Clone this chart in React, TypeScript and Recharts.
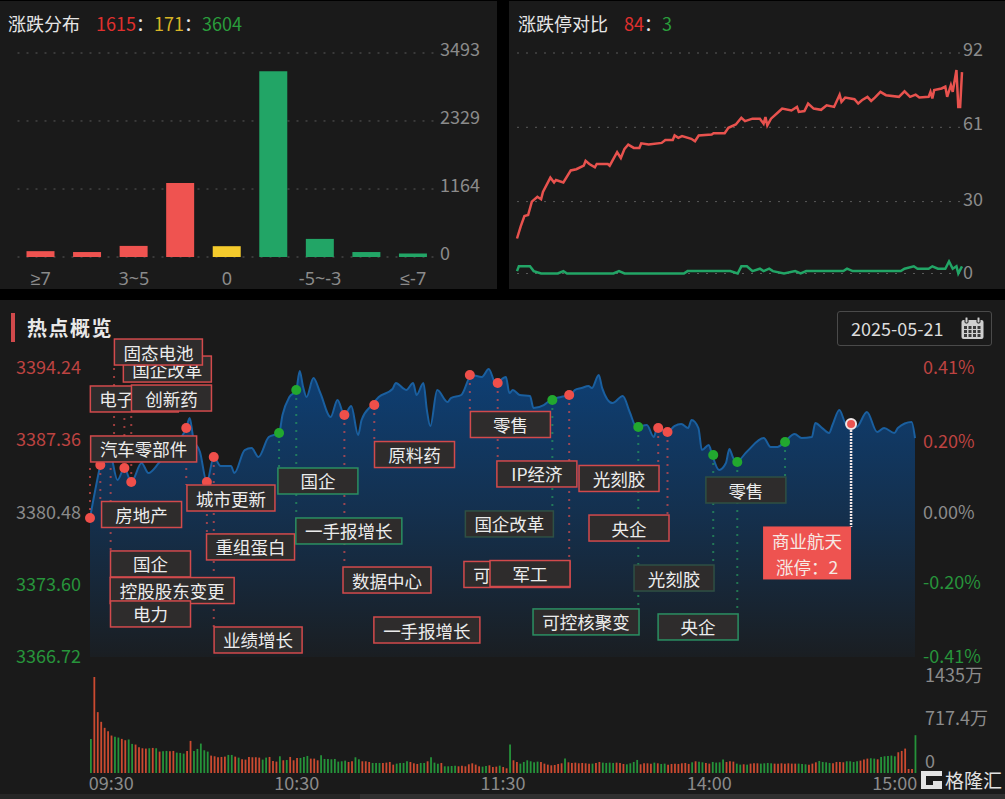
import {
  Area,
  Bar,
  BarChart,
  CartesianGrid,
  Cell,
  ComposedChart,
  Line,
  LineChart,
  ReferenceDot,
  ReferenceLine,
  XAxis,
  YAxis,
} from 'recharts';

const FONT = '"Noto Sans CJK SC", "Noto Sans", sans-serif';
const RED = '#ef5350';
const GREEN = '#22a566';
const AXIS_GREY = '#8b8b8b';

// 涨跌分布
const rangeLabels = ['≥7', '5~7', '3~5', '0~3', '0', '-3~0', '-5~-3', '-7~-5', '≤-7'];
const rangeCounts = [100, 85, 190, 1265, 185, 3180, 310, 85, 60];
const rangeColors = [RED, RED, RED, RED, '#f5cb2c', GREEN, GREEN, GREEN, GREEN];
const rangeTicks = [0, 1164, 2329, 3493];

// 涨跌停对比
const limitUpMinutes = [
  0, 2, 4, 6, 8, 11, 13, 14, 18, 20, 21, 25, 29, 32, 36, 37, 39, 42, 43, 49, 50, 52, 54, 56, 58, 60, 63, 66, 67, 71,
  78, 80, 84, 85, 87, 89, 94, 96, 98, 105, 106, 112, 114, 118, 121, 123, 127, 131, 133, 134, 135, 137, 141, 143, 148,
  151, 152, 155, 157, 160, 164, 167, 171, 174, 175, 177, 182, 184, 186, 189, 191, 193, 196, 199, 206, 209, 212, 215,
  217, 222, 223, 224, 225, 229, 231, 232, 234, 235, 237, 238, 239, 240,
];
const limitUpCounts = [
  14.6, 19.7, 24, 24.4, 30, 32, 31, 34, 40, 38, 39, 38, 43, 43.5, 45, 47, 45.7, 44.3, 45.7, 45.7, 45, 47.8, 50.6, 48.2,
  52, 53.8, 52.4, 52.4, 54.3, 53.8, 54.5, 55.7, 55.7, 57.6, 56.6, 57.3, 56.2, 55.2, 57.6, 58, 58.5, 58.5, 60.8, 62.2,
  65, 63.6, 64.6, 64.6, 62.5, 65.3, 61.8, 64.6, 67.4, 68.8, 68, 69.5, 67.4, 67.8, 70.9, 68.8, 68.3, 70.2, 69.5, 74.6,
  71.6, 73.4, 72.7, 70.9, 72.3, 73.7, 72, 73.4, 75.8, 74.4, 73.7, 76, 73.7, 74.6, 73.4, 73.7, 75.8, 73, 76.5, 77.2, 78,
  73.7, 78.6, 75.8, 84.9, 69.5, 69.5, 84,
];
const limitDownMinutes = [
  0, 1, 7, 9, 13, 22, 25, 27, 52, 55, 58, 90, 92, 115, 119, 121, 124, 127, 131, 133, 136, 138, 144, 150, 153, 156, 176,
  178, 181, 207, 209, 214, 216, 222, 224, 227, 231, 233, 235, 237, 238, 240,
];
const limitDownCounts = [
  1, 3, 3, 1, 0, 0, 1, 0, 0, 1, 0, 0, 1, 1, 0, 3, 3, 1, 2, 1, 2, 1, 0, 1, 0, 1, 1, 2, 1, 1, 2, 3, 2, 2, 3, 2, 2, 5, 2,
  3, 0, 3,
];
const limitTicks = [0, 30, 61, 92];
const limitTickLifts = [3, 4, 5, 5];

// 热点概览 分时
const priceMinutes = [
  0, 3, 4, 6, 8, 10, 12, 15, 17, 20, 23, 28, 29, 30, 32, 34, 36, 38, 41, 42, 45, 47, 49, 52, 55, 56, 58, 60, 61, 62,
  63, 65, 67, 70, 72, 74, 76, 78, 79, 82, 84, 88, 89, 91, 92, 94, 95, 97, 98, 99, 101, 104, 105, 108, 111, 114, 116,
  118, 121, 122, 123, 125, 128, 129, 132, 134, 137, 140, 141, 143, 145, 146, 148, 149, 152, 155, 157, 159, 162, 164,
  165, 168, 170, 172, 174, 175, 177, 178, 180, 181, 183, 185, 186, 187, 188, 191, 196, 198, 200, 202, 205, 207, 210,
  211, 213, 215, 216, 218, 220, 221, 223, 226, 229, 231, 234, 235, 239, 240,
];
const priceValues = [
  3379.96, 3385.0, 3386.43, 3385.95, 3383.57, 3384.72, 3383.38, 3385.19, 3384.24, 3385.19, 3386.43, 3388.52, 3389.48,
  3387.67, 3386.24, 3383.38, 3385.76, 3384.91, 3384.91, 3384.24, 3386.43, 3386.62, 3385.76, 3387.67, 3388.05, 3389.76,
  3391.48, 3392.14, 3393.95, 3392.43, 3391.48, 3393.28, 3391.86, 3389.57, 3391.19, 3389.76, 3390.62, 3387.86, 3389.29,
  3390.71, 3391.48, 3392.24, 3392.81, 3392.33, 3392.14, 3392.81, 3391.67, 3392.81, 3390.24, 3388.71, 3392.14, 3391.0,
  3391.38, 3391.67, 3393.57, 3393.38, 3394.14, 3392.81, 3393.38, 3391.86, 3392.14, 3391.67, 3391.57, 3390.43, 3390.71,
  3391.19, 3391.48, 3391.67, 3392.14, 3392.33, 3392.52, 3392.33, 3393.57, 3392.33, 3390.9, 3391.57, 3390.05, 3388.62,
  3388.81, 3387.67, 3388.52, 3388.14, 3388.71, 3388.91, 3388.52, 3389.29, 3388.52, 3386.43, 3386.91, 3385.95, 3384.53,
  3385.19, 3386.53, 3385.76, 3385.29, 3386.24, 3387.57, 3386.72, 3386.72, 3387.19, 3387.95, 3387.57, 3387.67, 3389.0,
  3388.52, 3388.05, 3388.81, 3390.24, 3388.91, 3388.91, 3388.62, 3390.05, 3388.14, 3388.52, 3388.05, 3388.52, 3389.09,
  3387.57,
];
const preClose = 3380.48;
const priceTicks = [3366.72, 3373.6, 3380.48, 3387.36, 3394.24];
const pctTicks = [-0.41, -0.2, 0, 0.2, 0.41];

// 异动点: 分钟, 价格, 引线终点价格, 方向
const eventMinutes = [
  0, 3, 6, 7, 10, 12, 28, 34, 36, 55, 60, 74, 82.7, 110.5, 118.6, 134.5, 139.4, 159.5, 165.3, 168, 181.3, 188.3, 202.2,
];
const eventPrices = [
  3379.96, 3385.0, 3386.24, 3386.43, 3384.72, 3383.38, 3388.52, 3383.38, 3385.76, 3388.05, 3392.14, 3389.76, 3390.71,
  3393.57, 3392.81, 3391.19, 3391.67, 3388.62, 3388.52, 3388.14, 3385.95, 3385.29, 3387.19,
];
const eventStemEnds = [
  3385.29, 3381.48, 3376.8, 3394.24, 3390.05, 3390.14, 3383.1, 3378.4, 3369.58, 3384.72, 3379.96, 3375.29, 3387.29,
  3390.05, 3385.38, 3380.62, 3375.96, 3371.29, 3384.9, 3380.24, 3375.48, 3370.76, 3383.86,
];
const eventUp = [
  true, true, true, true, true, true, true, true, true, false, false, true, true, true, true, false, true, false, true,
  true, false, false, false,
];

// 标签: 文字, 中心分钟, 中心价格, 边框
const tagTexts = [
  '国企改革', '固态电池', '电子\u3000\u3000', '创新药', '汽车零部件', '房地产', '城市更新', '重组蛋白', '国企', '控股股东变更',
  '电力', '业绩增长', '国企', '一手报增长', '原料药', '零售', 'IP经济', '光刻胶', '国企改革', '央企', '数据中心', '可控核聚变',
  '军工', '一手报增长', '可控核聚变', '光刻胶', '央企', '零售',
];
const tagMinutes = [
  22.5, 19.9, 12.9, 23.7, 15.6, 15, 41, 46.7, 17.6, 23.9, 17.6, 48.9, 66.3, 75.3, 94.4, 122.3, 130, 153.9, 122, 156.8,
  86.4, 124.2, 128, 98, 144.3, 169.9, 176.9, 190.8,
];
const tagPrices = [
  3394.14, 3395.76, 3391.29, 3391.38, 3386.53, 3380.29, 3381.86, 3377.2, 3375.58, 3373.05, 3370.82, 3368.34, 3383.48,
  3378.72, 3386.0, 3388.86, 3384.15, 3383.72, 3379.39, 3379.0, 3374.05, 3374.58, 3374.67, 3369.29, 3370.06, 3374.24,
  3369.58, 3382.62,
];
const tagTones = [
  'r', 'r', 'r', 'r', 'r', 'r', 'r', 'r', 'r', 'r', 'r', 'r', 'g', 'g', 'r', 'r', 'r', 'r', 'd', 'r', 'r', 'r', 'r', 'r',
  'g', 'd', 'g', 'd',
];

const highlightMinute = 221.4;
const highlightPrice = 3388.91;
const highlightStemEnd = 3379.1;
const highlightTagMinute = 208.6;
const highlightTagPrice = 3376.58;
const highlightLines = ['商业航天', '涨停：2'];

// 成交量 每分钟, 单位万
const volumeValues = [
  510, 1435, 910, 765, 675, 625, 560, 540, 530, 510,
  490, 500, 435, 425, 385, 370, 365, 370, 375, 370,
  320, 325, 330, 325, 330, 305, 300, 290, 330, 480,
  330, 360, 440, 340, 320, 260, 250, 235, 240, 245,
  270, 270, 245, 230, 205, 200, 240, 235, 235, 230,
  200, 230, 240, 180, 170, 250, 190, 195, 240, 190,
  225, 225, 240, 255, 215, 215, 190, 265, 210, 210,
  205, 210, 170, 175, 185, 165, 175, 235, 205, 175,
  175, 165, 150, 150, 150, 150, 155, 165, 125, 140,
  150, 150, 175, 165, 145, 135, 150, 150, 175, 235,
  155, 140, 150, 100, 100, 105, 110, 100, 110, 100,
  130, 145, 125, 100, 95, 105, 115, 90, 95, 110,
  90, 70, 425, 190, 165, 140, 165, 190, 175, 160,
  170, 165, 140, 125, 115, 120, 135, 145, 215, 160,
  150, 155, 145, 150, 145, 140, 140, 150, 165, 155,
  150, 155, 150, 155, 150, 135, 130, 145, 165, 195,
  130, 145, 145, 140, 155, 145, 135, 140, 125, 135,
  140, 135, 145, 150, 135, 160, 175, 170, 160, 150,
  140, 165, 155, 160, 200, 165, 175, 170, 140, 125,
  130, 125, 140, 145, 145, 140, 145, 150, 145, 140,
  140, 145, 140, 145, 140, 140, 140, 135, 130, 125,
  140, 160, 180, 165, 160, 150, 145, 165, 165, 160,
  175, 175, 165, 175, 185, 200, 215, 220, 215, 205,
  240, 250, 255, 260, 250, 310, 330, 365, 60, 60,
  565,
];
const volumeSides = (
  'grrrrrrggr' + 'rggrrrrgrg' + 'rggrrgggrr' + 'gggggrrrrr' + 'ggrgrrrrrr' + 'ggrrrgrgrr' + 'rgggrrrggg' +
  'gggggrrggr' + 'rrgggrrrrg' + 'gggrrrggrg' + 'ggrggggrrr' + 'rrrrggrrrg' + 'rrgrrggggg' + 'grrrrrrrgr' +
  'rrrrrrgrrg' + 'gggrrrgggg' + 'rrrrgrggrr' + 'rrrrrgrggr' + 'rggggrrrgg' + 'rgrrrggggr' + 'rrrrrrgggr' +
  'rrggggrrrr' + 'ggggrrrggr' + 'gggggrrrrr' + 'g'
).split('');
const volumeTicks = [0, 717.4, 1435];
const timeMinutes = [0, 60, 120, 180, 240];
const timeLabels = ['09:30', '10:30', '11:30', '14:00', '15:00'];

const rangeData = rangeLabels.map((label, i) => ({ label, count: rangeCounts[i] }));
const limitUpData = limitUpMinutes.map((minute, i) => ({ minute, count: limitUpCounts[i] }));
const limitDownData = limitDownMinutes.map((minute, i) => ({ minute, count: limitDownCounts[i] }));
const priceData = priceMinutes.map((minute, i) => ({
  minute,
  price: priceValues[i],
  pct: (priceValues[i] / preClose - 1) * 100,
}));
const volumeData = volumeValues.map((volume, i) => ({ minute: i, volume }));

function tickColor(value: number, mid: number) {
  if (value > mid) return '#bd4341';
  if (value < mid) return '#27943b';
  return AXIS_GREY;
}

function GreyTick({ y, payload, left, lift = 3, text }: any) {
  return (
    <text x={left} y={y - lift} fill={AXIS_GREY} fontSize={18} fontFamily={FONT} dominantBaseline="central">
      {text ?? payload.value}
    </text>
  );
}

function tagWidth(text: string) {
  const ascii = text.replace(/[^\x00-\x7f]/g, '').length;
  return Math.max(80, (text.length - ascii + ascii / 2) * 18 + 16);
}

function Tag({ cx, cy, text, tone }: any) {
  const width = tagWidth(text);
  const border = tone === 'r' ? '#d24a4c' : tone === 'g' ? '#2b8f62' : '#2f5044';
  return (
    <g>
      <rect x={cx - width / 2} y={cy - 13} width={width} height={26} fill="#2e2c2c" stroke={border} strokeWidth={1.5} />
      <text
        x={cx}
        y={cy}
        fill="#ececec"
        fontSize={17.5}
        fontFamily={FONT}
        textAnchor="middle"
        dominantBaseline="central"
      >
        {text}
      </text>
    </g>
  );
}

function HighlightTag({ cx, cy }: any) {
  return (
    <g>
      <rect x={cx - 44} y={cy - 27} width={88} height={53} fill="#ee5350" />
      {highlightLines.map((line, i) => (
        <text
          key={line}
          x={cx}
          y={cy - 13 + i * 26}
          fill="#f6e9e4"
          fontSize={17.5}
          fontFamily={FONT}
          textAnchor="middle"
          dominantBaseline="central"
        >
          {line}
        </text>
      ))}
    </g>
  );
}

function PanelTitle({ title, parts, left }: { title: string; parts: [string, string][]; left: number }) {
  return (
    <div
      style={{
        position: 'absolute',
        left,
        top: 10,
        height: 27,
        lineHeight: '27px',
        fontSize: 18,
        fontFamily: FONT,
        color: '#e6e6e6',
        whiteSpace: 'pre',
      }}
    >
      <span style={{ marginRight: 16 }}>{title}</span>
      {parts.map(([text, color], i) => (
        <span key={i} style={{ color }}>
          {text}
        </span>
      ))}
    </div>
  );
}

function RangeChart() {
  return (
    <BarChart width={497} height={290} data={rangeData} margin={{ top: 53, right: 0, bottom: 0, left: 17.5 }}>
      <CartesianGrid vertical={false} stroke="#5a5a5a" strokeDasharray="2 7" />
      <XAxis
        dataKey="label"
        interval={1}
        height={33}
        axisLine={false}
        tickLine={false}
        tick={({ x, payload }: any) => (
          <text
            x={x}
            y={278}
            fill={AXIS_GREY}
            fontSize={18}
            fontFamily='"Noto Sans", sans-serif'
            textAnchor="middle"
            dominantBaseline="central"
          >
            {payload.value}
          </text>
        )}
      />
      <YAxis
        orientation="right"
        width={60.5}
        domain={[0, 3493]}
        ticks={rangeTicks}
        interval={0}
        axisLine={false}
        tickLine={false}
        tick={(props: any) => <GreyTick {...props} left={440} lift={5} />}
      />
      <Bar dataKey="count" barSize={28} isAnimationActive={false}>
        {rangeData.map((row, i) => (
          <Cell key={row.label} fill={rangeColors[i]} />
        ))}
      </Bar>
    </BarChart>
  );
}

function LimitChart() {
  return (
    <LineChart width={496} height={290} margin={{ top: 53, right: 0, bottom: 16.5, left: 8 }}>
      <CartesianGrid vertical={false} stroke="#5a5a5a" strokeDasharray="2 7" />
      <XAxis dataKey="minute" type="number" domain={[0, 240]} hide />
      <YAxis
        orientation="right"
        width={43}
        domain={[0, 92]}
        ticks={limitTicks}
        interval={0}
        axisLine={false}
        tickLine={false}
        tick={(props: any) => (
          <GreyTick {...props} left={454} lift={limitTickLifts[limitTicks.indexOf(props.payload.value)]} />
        )}
      />
      <Line
        data={limitUpData}
        dataKey="count"
        type="linear"
        stroke="#e8524e"
        strokeWidth={2.5}
        dot={false}
        isAnimationActive={false}
      />
      <Line
        data={limitDownData}
        dataKey="count"
        type="linear"
        stroke={GREEN}
        strokeWidth={2.5}
        dot={false}
        isAnimationActive={false}
      />
    </LineChart>
  );
}

function PriceChart() {
  return (
    <ComposedChart width={1005} height={370} data={priceData} margin={{ top: 68, right: 0, bottom: 13, left: 0 }}>
      <defs>
        <linearGradient id="priceFill" x1="0" y1="0" x2="0" y2="1">
          <stop offset="0%" stopColor="#0e3f74" />
          <stop offset="50%" stopColor="#14304e" />
          <stop offset="100%" stopColor="#1a1e22" />
        </linearGradient>
      </defs>
      <XAxis dataKey="minute" type="number" domain={[0, 240]} hide />
      <YAxis
        width={90}
        domain={[3366.72, 3394.24]}
        ticks={priceTicks}
        interval={0}
        axisLine={false}
        tickLine={false}
        tick={({ y, payload }: any) => (
          <text x={16} y={y - 2} fill={tickColor(payload.value, preClose)} fontSize={18} fontFamily={FONT} dominantBaseline="central">
            {payload.value.toFixed(2)}
          </text>
        )}
      />
      <YAxis
        yAxisId="pct"
        orientation="right"
        width={90}
        domain={[-0.41, 0.41]}
        ticks={pctTicks}
        interval={0}
        axisLine={false}
        tickLine={false}
        tick={({ y, payload }: any) => (
          <text x={923} y={y - 2} fill={tickColor(payload.value, 0)} fontSize={18} fontFamily={FONT} dominantBaseline="central">
            {payload.value.toFixed(2)}%
          </text>
        )}
      />
      <Area
        dataKey="price"
        type="monotone"
        stroke="#1a5f9f"
        strokeWidth={2}
        fill="url(#priceFill)"
        fillOpacity={1}
        dot={false}
        isAnimationActive={false}
      />
      {/* keeps the percent axis attached to a series, the line itself is the same curve as the area */}
      <Line yAxisId="pct" dataKey="pct" stroke="none" dot={false} legendType="none" isAnimationActive={false} />
      {eventMinutes.map((minute, i) => (
        <ReferenceLine
          key={`stem-${i}`}
          ifOverflow="visible"
          segment={[
            { x: minute, y: eventPrices[i] },
            { x: minute, y: eventStemEnds[i] },
          ]}
          stroke={eventUp[i] ? '#e25050' : '#2aa060'}
          strokeOpacity={0.65}
          strokeWidth={2}
          strokeDasharray="2 6"
        />
      ))}
      {eventMinutes.map((minute, i) => (
        <ReferenceDot
          key={`dot-${i}`}
          x={minute}
          y={eventPrices[i]}
          r={5}
          ifOverflow="visible"
          fill={eventUp[i] ? '#ef4f4a' : '#22a82f'}
          stroke="none"
        />
      ))}
      {tagTexts.map((text, i) => (
        <ReferenceDot
          key={`tag-${i}`}
          x={tagMinutes[i]}
          y={tagPrices[i]}
          ifOverflow="visible"
          shape={(props: any) => <Tag {...props} text={text} tone={tagTones[i]} />}
        />
      ))}
      <ReferenceLine
        ifOverflow="visible"
        segment={[
          { x: highlightMinute, y: highlightPrice },
          { x: highlightMinute, y: highlightStemEnd },
        ]}
        stroke="#f1e6e6"
        strokeWidth={2.5}
        strokeDasharray="2 1"
      />
      <ReferenceDot
        x={highlightMinute}
        y={highlightPrice}
        r={5}
        ifOverflow="visible"
        fill="#ea5350"
        stroke="#efe6e6"
        strokeWidth={2}
      />
      <ReferenceDot
        x={highlightTagMinute}
        y={highlightTagPrice}
        ifOverflow="visible"
        shape={(props: any) => <HighlightTag {...props} />}
      />
    </ComposedChart>
  );
}

function VolumeChart() {
  return (
    <BarChart width={1005} height={139} data={volumeData} margin={{ top: 17, right: 0, bottom: 0, left: 89 }}>
      <XAxis
        dataKey="minute"
        ticks={timeMinutes}
        interval={0}
        height={26}
        axisLine={false}
        tickLine={false}
        tick={({ x, payload }: any) => {
          const i = timeMinutes.indexOf(payload.value);
          const anchor = i === 0 ? 'start' : i === timeMinutes.length - 1 ? 'end' : 'middle';
          return (
            <text
              x={i === 0 ? x - 2 : i === timeMinutes.length - 1 ? x + 2 : x}
              y={122}
              fill={AXIS_GREY}
              fontSize={18}
              fontFamily={FONT}
              textAnchor={anchor}
              dominantBaseline="central"
            >
              {timeLabels[i]}
            </text>
          );
        }}
      />
      <YAxis
        orientation="right"
        width={88}
        domain={[0, 1435]}
        ticks={volumeTicks}
        interval={0}
        axisLine={false}
        tickLine={false}
        tick={(props: any) => {
          const v = props.payload.value;
          return <GreyTick {...props} left={925} lift={v === 0 ? 13 : v === 1435 ? 3 : 8} text={v === 0 ? '0' : `${v}万`} />;
        }}
      />
      <Bar dataKey="volume" barSize={1.8} isAnimationActive={false}>
        {volumeData.map((row, i) => (
          <Cell key={row.minute} fill={volumeSides[i] === 'r' ? '#cb4a30' : '#25933a'} />
        ))}
      </Bar>
    </BarChart>
  );
}

function Calendar() {
  const cols = [3, 7.5, 12, 16.5];
  const rows = [9, 13, 17];
  return (
    <svg width={23} height={23} style={{ position: 'absolute', left: 123, top: 5 }}>
      <rect x={0.5} y={3} width={22} height={19} rx={2} fill="#cfcfcf" />
      <rect x={4} y={0} width={3} height={6} rx={1} fill="#cfcfcf" stroke="#1a1a1a" />
      <rect x={16} y={0} width={3} height={6} rx={1} fill="#cfcfcf" stroke="#1a1a1a" />
      {rows.map((y) => cols.map((x) => <rect key={`${x}-${y}`} x={x} y={y} width={3} height={3} fill="#3a3a3a" />))}
    </svg>
  );
}

export default function App() {
  return (
    <div style={{ position: 'absolute', left: 0, top: 0, width: 1005, height: 799, background: '#000', overflow: 'hidden', fontFamily: FONT }}>
      <div style={{ position: 'absolute', left: 0, top: 1, width: 497, height: 288, background: '#1a1a1a' }} />
      <div style={{ position: 'absolute', left: 509, top: 1, width: 496, height: 288, background: '#1a1a1a' }} />
      <div style={{ position: 'absolute', left: 0, top: 300, width: 1005, height: 494, background: '#1a1a1a' }} />
      <div style={{ position: 'absolute', left: 0, top: 794, width: 360, height: 5, background: '#262626' }} />
      <div style={{ position: 'absolute', left: 360, top: 794, width: 645, height: 5, background: '#303030' }} />

      <div style={{ position: 'absolute', left: 0, top: 0 }}>
        <RangeChart />
      </div>
      <div style={{ position: 'absolute', left: 509, top: 0 }}>
        <LimitChart />
      </div>
      <div style={{ position: 'absolute', left: 0, top: 300 }}>
        <PriceChart />
      </div>
      <div style={{ position: 'absolute', left: 0, top: 660 }}>
        <VolumeChart />
      </div>

      <PanelTitle
        title="涨跌分布"
        left={8}
        parts={[
          ['1615', '#e0302e'],
          ['：', '#e6e6e6'],
          ['171', '#d8b526'],
          ['：', '#e6e6e6'],
          ['3604', '#2a9d3c'],
        ]}
      />
      <PanelTitle
        title="涨跌停对比"
        left={518}
        parts={[
          ['84', '#e0302e'],
          ['：', '#e6e6e6'],
          ['3', '#2a9d3c'],
        ]}
      />

      <div style={{ position: 'absolute', left: 11, top: 313, width: 4, height: 29, background: '#d0494b' }} />
      <div style={{ position: 'absolute', left: 27, top: 314, fontSize: 20, fontWeight: 700, lineHeight: '28px', color: '#e8e8e8', letterSpacing: 1.5 }}>
        热点概览
      </div>
      <div
        style={{
          position: 'absolute',
          left: 837,
          top: 311,
          width: 155,
          height: 35,
          boxSizing: 'border-box',
          border: '1px solid #4a4a4a',
          borderRadius: 3,
          color: '#dcdcdc',
          fontSize: 18,
          lineHeight: '33px',
          paddingLeft: 13,
        }}
      >
        2025-05-21
        <Calendar />
      </div>

      <svg width={25} height={22} style={{ position: 'absolute', left: 919, top: 769 }}>
        <path d="M2 2 H23 V7 H7 V16 H14 V12 H23 V20 H2 Z" fill="#e2e2e2" />
      </svg>
      <div style={{ position: 'absolute', left: 945, top: 768, fontSize: 19, lineHeight: '24px', color: '#e2e2e2' }}>格隆汇</div>
    </div>
  );
}
